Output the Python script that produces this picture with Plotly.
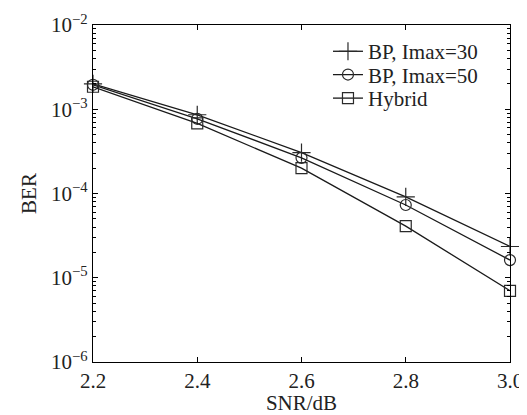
import plotly.graph_objects as go

snr = [2.2, 2.4, 2.6, 2.8, 3.0]
ber_bp30 = [2.0e-3, 8.6e-4, 3.05e-4, 9.1e-5, 2.35e-5]
ber_bp50 = [1.95e-3, 7.7e-4, 2.65e-4, 7.3e-5, 1.62e-5]
ber_hybrid = [1.85e-3, 6.8e-4, 2.0e-4, 4.1e-5, 7.0e-6]
names = ["BP, Imax=30", "BP, Imax=50", "Hybrid"]
x_ticks = [2.2, 2.4, 2.6, 2.8, 3.0]
x_ticktext = ["2.2", "2.4", "2.6", "2.8", "3.0"]
y_ticks = [1e-6, 1e-5, 1e-4, 1e-3, 1e-2]
y_ticktext = ["10<sup>\u22126</sup>", "10<sup>\u22125</sup>", "10<sup>\u22124</sup>",
              "10<sup>\u22123</sup>", "10<sup>\u22122</sup>"]
y_minor = [m * 10 ** e for e in range(-6, -2) for m in range(2, 10)]

font = "Liberation Serif"
fs = 21
fig = go.Figure()
series = [(ber_bp30, "cross-thin-open", 13), (ber_bp50, "circle-open", 11), (ber_hybrid, "square-open", 11)]
legend_ids = ["legend", "legend2", "legend3"]
legend_y = [0.921, 0.852, 0.782]
for (vals, sym, sz), name, lid in zip(series, names, legend_ids):
    fig.add_trace(go.Scatter(
        x=snr, y=vals, name=name, mode="lines+markers", legend=lid, cliponaxis=False,
        line=dict(color="#1a1a1a", width=1.3),
        marker=dict(symbol=sym, size=sz, color="#2a2a2a", line=dict(width=1.2, color="#2a2a2a")),
    ))

legend_style = dict(x=0.5635, xanchor="left", yanchor="middle", bgcolor="rgba(0,0,0,0)",
                    font=dict(family=font, size=fs, color="#222"), itemwidth=30)

axis_common = dict(showline=True, linecolor="black", linewidth=1.2, mirror="ticks",
                   ticks="inside", tickcolor="black", showgrid=False, zeroline=False,
                   automargin=False,
                   tickfont=dict(family=font, size=fs, color="#222"))
fig.update_layout(
    width=519, height=407,
    margin=dict(l=85, r=17, t=17, b=53),
    paper_bgcolor="white", plot_bgcolor="white",
    font=dict(family=font, color="#222"),
    showlegend=True,
    legend=dict(y=legend_y[0], **legend_style),
    legend2=dict(y=legend_y[1], **legend_style),
    legend3=dict(y=legend_y[2], **legend_style),
    xaxis=dict(range=[2.2, 3.0], tickvals=x_ticks, ticktext=x_ticktext, ticklen=5,
               title=dict(text="SNR/dB", font=dict(family=font, size=fs, color="#222"), standoff=2),
               **axis_common),
    yaxis=dict(type="log", range=[-6, -2], tickvals=y_ticks, ticktext=y_ticktext, ticklen=5,
               minor=dict(ticks="inside", ticklen=3, tickcolor="black", showgrid=False,
                          tickvals=y_minor),
               title=dict(text="BER", font=dict(family=font, size=fs, color="#222"), standoff=8),
               **axis_common),
)
fig.write_html("out.html")
